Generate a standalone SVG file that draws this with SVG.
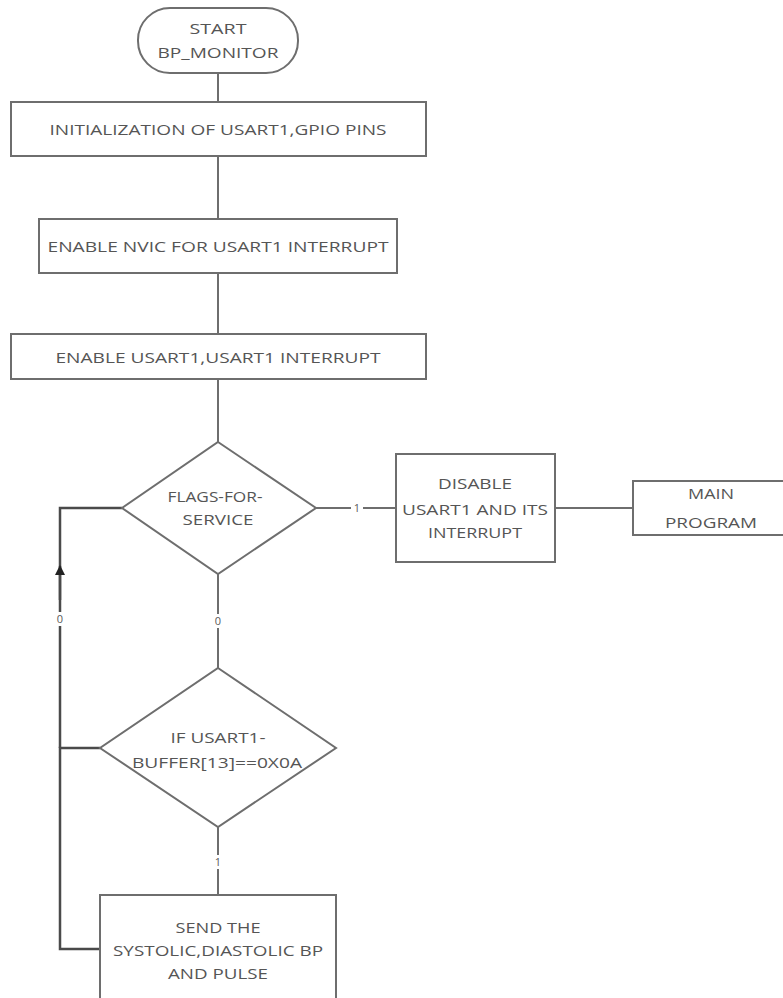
<svg xmlns="http://www.w3.org/2000/svg" width="783" height="998" viewBox="0 0 783 998">
<defs>
<style>
.box{fill:#fff;stroke:#6e6e6e;stroke-width:2}
.ln{fill:none;stroke:#6e6e6e;stroke-width:2}
.loop{fill:none;stroke:#4a4a4a;stroke-width:2.5}
.t{font-family:"Open Sans","Liberation Sans",sans-serif;font-size:15px;fill:#555;text-anchor:middle}
.lbl{font-family:"Open Sans","Liberation Sans",sans-serif;font-size:11px;fill:#5a5a5a;text-anchor:middle}
</style>
<marker id="arr" viewBox="0 0 10 10" refX="9" refY="5" markerWidth="4" markerHeight="5" orient="auto" markerUnits="strokeWidth">
<path d="M0,0 L10,5 L0,10 z" fill="#222"/>
</marker>
</defs>
<rect width="783" height="998" fill="#fff"/>
<g id="connectors">
<line class="ln" x1="218" y1="73" x2="218" y2="102"/>
<line class="ln" x1="218" y1="156" x2="218" y2="219"/>
<line class="ln" x1="218" y1="273" x2="218" y2="334"/>
<line class="ln" x1="218" y1="379" x2="218" y2="442"/>
<line class="ln" x1="316" y1="508" x2="396" y2="508"/>
<line class="ln" x1="555" y1="508" x2="633" y2="508"/>
<line class="ln" x1="218" y1="574" x2="218" y2="668"/>
<line class="ln" x1="218" y1="827" x2="218" y2="895"/>
<polyline class="loop" points="100,949 60,949 60,748 100,748"/>
<polyline class="loop" points="60,748 60,508 122,508"/>
<line class="loop" x1="60" y1="600" x2="60" y2="566" marker-end="url(#arr)"/>
<rect x="54" y="612" width="12" height="14" fill="#fff"/>
<text class="lbl" x="60" y="623">0</text>
<rect x="212" y="614" width="12" height="14" fill="#fff"/>
<text class="lbl" x="218" y="625">0</text>
<rect x="351" y="501" width="12" height="14" fill="#fff"/>
<text class="lbl" x="357" y="512">1</text>
<rect x="212" y="855" width="12" height="14" fill="#fff"/>
<text class="lbl" x="218" y="866">1</text>
</g>
<g id="start">
<rect class="box" x="138" y="8" width="160" height="65" rx="32" ry="32"/>
<text class="t" x="218" y="34" textLength="57" lengthAdjust="spacingAndGlyphs">START</text>
<text class="t" x="218" y="58" textLength="121" lengthAdjust="spacingAndGlyphs">BP_MONITOR</text>
</g>
<g id="init">
<rect class="box" x="11" y="102" width="415" height="54"/>
<text class="t" x="218" y="135" textLength="337" lengthAdjust="spacingAndGlyphs">INITIALIZATION OF USART1,GPIO PINS</text>
</g>
<g id="nvic">
<rect class="box" x="39" y="219" width="358" height="54"/>
<text class="t" x="218" y="252" textLength="341" lengthAdjust="spacingAndGlyphs">ENABLE NVIC FOR USART1 INTERRUPT</text>
</g>
<g id="enable">
<rect class="box" x="11" y="334" width="415" height="45"/>
<text class="t" x="218" y="363" textLength="325" lengthAdjust="spacingAndGlyphs">ENABLE USART1,USART1 INTERRUPT</text>
</g>
<g id="flags">
<polygon class="box" points="218,442 316,508 218,574 122,508"/>
<text class="t" x="215" y="502" textLength="95" lengthAdjust="spacingAndGlyphs">FLAGS-FOR-</text>
<text class="t" x="218" y="525" textLength="71" lengthAdjust="spacingAndGlyphs">SERVICE</text>
</g>
<g id="disable">
<rect class="box" x="396" y="454" width="159" height="108"/>
<text class="t" x="475" y="489" textLength="74" lengthAdjust="spacingAndGlyphs">DISABLE</text>
<text class="t" x="475" y="515" textLength="146" lengthAdjust="spacingAndGlyphs">USART1 AND ITS</text>
<text class="t" x="475" y="538" textLength="94" lengthAdjust="spacingAndGlyphs">INTERRUPT</text>
</g>
<g id="main">
<rect class="box" x="633" y="481" width="160" height="54"/>
<text class="t" x="711" y="499" textLength="46" lengthAdjust="spacingAndGlyphs">MAIN</text>
<text class="t" x="711" y="528" textLength="92" lengthAdjust="spacingAndGlyphs">PROGRAM</text>
</g>
<g id="ifbuf">
<polygon class="box" points="218,668 336,748 218,827 100,748"/>
<text class="t" x="218" y="743" textLength="95" lengthAdjust="spacingAndGlyphs">IF USART1-</text>
<text class="t" x="217" y="768" textLength="170" lengthAdjust="spacingAndGlyphs">BUFFER[13]==0X0A</text>
</g>
<g id="send">
<rect class="box" x="100" y="895" width="236" height="110"/>
<text class="t" x="218" y="933" textLength="85" lengthAdjust="spacingAndGlyphs">SEND THE</text>
<text class="t" x="218" y="956" textLength="210" lengthAdjust="spacingAndGlyphs">SYSTOLIC,DIASTOLIC BP</text>
<text class="t" x="218" y="979" textLength="100" lengthAdjust="spacingAndGlyphs">AND PULSE</text>
</g>
</svg>
